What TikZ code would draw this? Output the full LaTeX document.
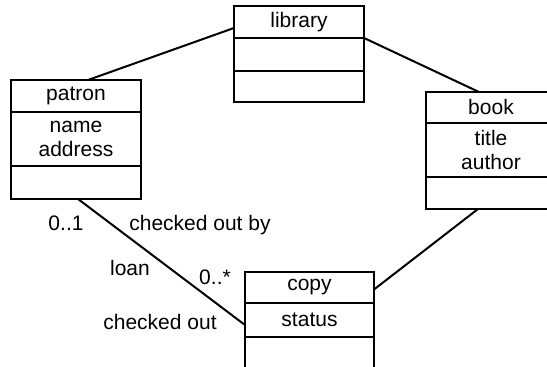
\documentclass[tikz,border=0pt]{standalone}
\usepackage{fontspec}
\setmainfont{Liberation Sans}
\begin{document}
\begin{tikzpicture}[x=0.5pt,y=-0.5pt,
  part/.style={draw,line width=1pt,minimum width=65pt,inner sep=0pt,outer sep=0pt,anchor=north,
     font=\fontsize{10.5}{12}\selectfont,align=center},
  lab/.style={inner sep=0pt,font=\fontsize{10.5}{12}\selectfont},
  conn/.style={line width=1pt}]
\useasboundingbox (0,0) rectangle (547,367);
\clip (0,0) rectangle (547,367);
% patron
\node[part,minimum height=16pt] (patT) at (76,80) {patron};
\node[part,minimum height=27pt] (patA) at (patT.south) {name\\address};
\node[part,minimum height=16.5pt] (patO) at (patA.south) {};
% library
\node[part,minimum height=16pt] (libT) at (299,6) {library};
\node[part,minimum height=16.5pt] (libA) at (libT.south) {};
\node[part,minimum height=15.5pt] (libO) at (libA.south) {};
% book
\node[part,minimum height=15.5pt] (bookT) at (491,92) {book};
\node[part,minimum height=27pt] (bookA) at (bookT.south) {title\\author};
\node[part,minimum height=16pt] (bookO) at (bookA.south) {};
% copy
\node[part,minimum width=64.5pt,minimum height=15.5pt] (copyT) at (309.5,272) {copy};
\node[part,minimum width=64.5pt,minimum height=17pt] (copyA) at (copyT.south) {status};
\node[part,minimum width=64.5pt,minimum height=40pt] (copyO) at (copyA.south) {};
% connectors
\draw[conn] ([yshift=-3pt]libT.west) -- ([xshift=6pt]patT.north);
\draw[conn] (libT.south east) -- ([xshift=-6pt]bookT.north);
\draw[conn] ([xshift=-6.5pt]bookO.south) -- ([yshift=-1pt]copyT.east);
\draw[conn] ([xshift=1pt]patO.south) -- ([yshift=-2.5pt]copyA.west);
% labels
\node[lab] (m1) at (66,223) {0..1};
\node[lab] (r1) at (200,225) {checked out by};
\node[lab] (an) at (130,268) {loan};
\node[lab] (m2) at (215,277) {0..*};
\node[lab] (r2) at (160,322) {checked out};
\end{tikzpicture}
\end{document}
